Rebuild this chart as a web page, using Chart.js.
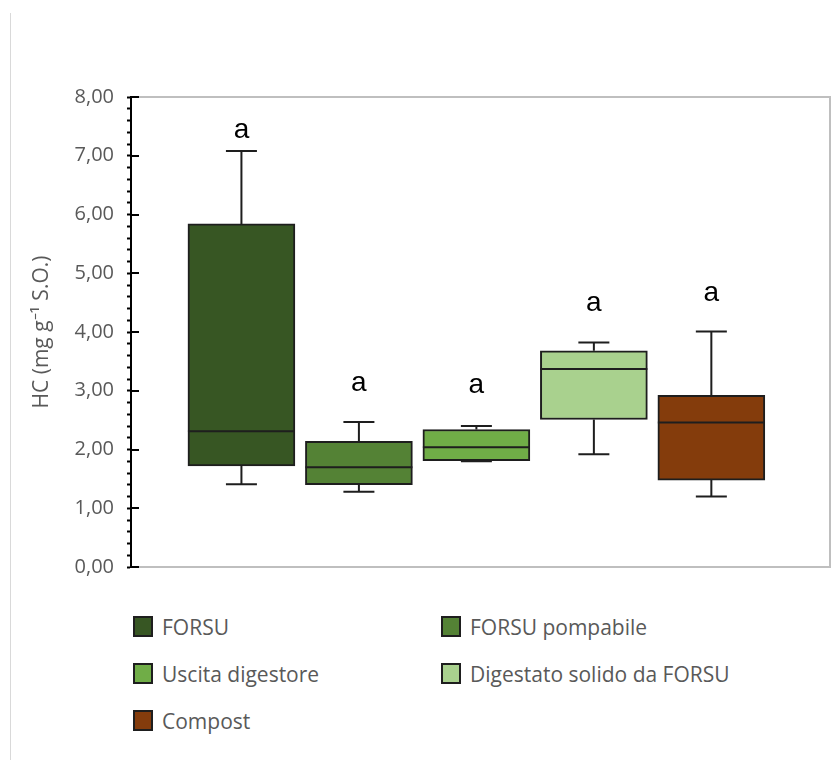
<!DOCTYPE html>
<html>
<head>
<meta charset="utf-8">
<script src="https://cdn.jsdelivr.net/npm/chart.js@4.4.1/dist/chart.umd.min.js"></script>
<style>
  html, body { margin: 0; background: #fff; overflow: hidden; }
  #wrap { position: relative; width: 832px; height: 760px; overflow: hidden; }
  #chart { position: absolute; left: 0; top: 0; }
  #pageLine { position: absolute; left: 10px; top: 13px; bottom: 0; border-left: 1px solid #d9d9d9; }
  #legend {
    position: absolute; left: 133px; top: 603px;
    display: grid; grid-template-columns: 308px auto; grid-auto-rows: 47px;
    font-family: "Open Sans", sans-serif; font-size: 21px; color: #595959;
  }
  .item { display: flex; align-items: center; }
  .swatch { width: 20px; height: 21px; box-sizing: border-box; border: 2px solid #1e1e1e; margin-right: 9px; }
</style>
</head>
<body>
<div id="wrap">
  <div id="pageLine"></div>
  <!-- canvas un po' più largo: il bordo destro dell'area coincide con quello di riferimento -->
  <canvas id="chart" width="844" height="600"></canvas>
  <div id="legend"></div>
</div>
<script>
// dati
const categories = ['FORSU', 'FORSU pompabile', 'Uscita digestore', 'Digestato solido da FORSU', 'Compost'];
const whiskerMin = [1.41, 1.28, 1.80, 1.92, 1.20];
const q1 = [1.72, 1.40, 1.81, 2.51, 1.48];
const median = [2.31, 1.70, 2.04, 3.37, 2.46];
const q3 = [5.84, 2.14, 2.34, 3.68, 2.92];
const whiskerMax = [7.08, 2.47, 2.40, 3.82, 4.01];
const mean = [3.39, 1.74, 2.06, 3.14, 2.33];
const letters = ['a', 'a', 'a', 'a', 'a'];
const letterY = [7.44, 3.13, 3.10, 4.49, 4.66];

// colori
const colors = ['#375623', '#548235', '#70ad47', '#a9d18e', '#843c0c'];
const edge = '#1e1e1e';

const fmt = v => v.toFixed(2).replace('.', ',');

// baffi, mediana e lettere
const boxExtras = {
  id: 'boxExtras',
  afterDatasetsDraw(chart) {
    const ctx = chart.ctx;
    const y = chart.scales.y;
    ctx.save();
    ctx.strokeStyle = edge;
    ctx.lineWidth = 2;
    categories.forEach((c, i) => {
      const bar = chart.getDatasetMeta(i).data[0];
      const x = bar.x;
      const half = bar.width / 2;
      const cap = 15.5;
      ctx.beginPath();
      // baffo superiore
      ctx.moveTo(x, y.getPixelForValue(q3[i]));
      ctx.lineTo(x, y.getPixelForValue(whiskerMax[i]));
      ctx.moveTo(x - cap, y.getPixelForValue(whiskerMax[i]));
      ctx.lineTo(x + cap, y.getPixelForValue(whiskerMax[i]));
      // baffo inferiore
      ctx.moveTo(x, y.getPixelForValue(q1[i]));
      ctx.lineTo(x, y.getPixelForValue(whiskerMin[i]));
      ctx.moveTo(x - cap, y.getPixelForValue(whiskerMin[i]));
      ctx.lineTo(x + cap, y.getPixelForValue(whiskerMin[i]));
      // mediana
      ctx.moveTo(x - half, y.getPixelForValue(median[i]));
      ctx.lineTo(x + half, y.getPixelForValue(median[i]));
      ctx.stroke();
      // lettere
      ctx.fillStyle = '#000';
      ctx.font = '28px "Liberation Sans", Arial, sans-serif';
      ctx.textAlign = 'center';
      ctx.textBaseline = 'middle';
      ctx.fillText(letters[i], x, y.getPixelForValue(letterY[i]));
    });
    // tacche principali interne all'asse
    ctx.strokeStyle = '#000';
    ctx.beginPath();
    y.ticks.forEach(t => {
      if (Math.abs(t.value - Math.round(t.value)) < 1e-6) {
        const py = Math.round(y.getPixelForValue(t.value));
        ctx.moveTo(chart.chartArea.left, py);
        ctx.lineTo(chart.chartArea.left + 8, py);
      }
    });
    ctx.stroke();
    ctx.restore();
  }
};

// cornice grigia dell'area del grafico
const frame = {
  id: 'frame',
  beforeDatasetsDraw(chart) {
    const { left, right, top, bottom } = chart.chartArea;
    const ctx = chart.ctx;
    ctx.save();
    ctx.strokeStyle = '#bfbfbf';
    ctx.lineWidth = 2;
    ctx.beginPath();
    ctx.moveTo(left, top);
    ctx.lineTo(right, top);
    ctx.lineTo(right, bottom);
    ctx.lineTo(left, bottom);
    ctx.stroke();
    ctx.restore();
  }
};

// legenda HTML su due colonne
const htmlLegend = {
  id: 'htmlLegend',
  afterUpdate(chart) {
    const box = document.getElementById('legend');
    box.innerHTML = '';
    const items = Chart.defaults.plugins.legend.labels.generateLabels(chart)
      .filter(it => it.datasetIndex < categories.length);
    items.forEach(it => {
      const div = document.createElement('div');
      div.className = 'item';
      const sw = document.createElement('span');
      sw.className = 'swatch';
      sw.style.background = it.fillStyle;
      const txt = document.createElement('span');
      txt.textContent = it.text;
      div.appendChild(sw);
      div.appendChild(txt);
      box.appendChild(div);
    });
  }
};

const datasets = categories.map((c, i) => ({
  type: 'bar',
  label: c,
  data: [{ x: i + 1, y: [q1[i], q3[i]] }],
  backgroundColor: colors[i],
  borderColor: edge,
  borderWidth: 2,
  borderSkipped: false,
  barThickness: 107,
  grouped: false
}));

datasets.push({
  type: 'scatter',
  label: 'Media',
  data: mean.map((m, i) => ({ x: i + 1, y: m })),
  pointStyle: 'crossRot',
  radius: 12,
  borderColor: '#000',
  borderWidth: 2,
  backgroundColor: 'rgba(0,0,0,0)'
});

new Chart(document.getElementById('chart'), {
  type: 'bar',
  data: { datasets },
  options: {
    responsive: false,
    animation: false,
    layout: { padding: { top: 97, right: 0, bottom: 33, left: 0 } },
    plugins: {
      legend: { display: false },
      tooltip: { enabled: false }
    },
    scales: {
      x: {
        type: 'linear',
        min: 0.06,
        max: 6.01,
        offset: false,
        display: false
      },
      y: {
        min: 0,
        max: 8,
        afterFit(scale) { scale.width = 131; },
        border: { color: '#000', width: 2 },
        grid: { drawOnChartArea: false, drawTicks: true, tickLength: 4, tickColor: '#000', tickWidth: 2 },
        ticks: {
          stepSize: 0.2,
          autoSkip: false,
          padding: 13,
          color: '#595959',
          font: { family: '"Open Sans", sans-serif', size: 20 },
          callback: v => Math.abs(v - Math.round(v)) < 1e-6 ? fmt(v) : ''
        },
        title: {
          display: true,
          text: 'HC (mg g⁻¹ S.O.)',
          color: '#595959',
          font: { family: '"Open Sans", sans-serif', size: 21 },
          padding: { top: 29, bottom: 0 }
        }
      }
    }
  },
  plugins: [frame, boxExtras, htmlLegend]
});
</script>
</body>
</html>
